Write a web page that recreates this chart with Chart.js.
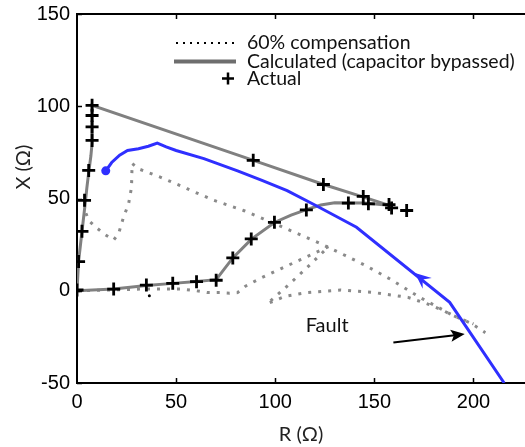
<!DOCTYPE html>
<html>
<head>
<meta charset="utf-8">
<script src="https://cdn.jsdelivr.net/npm/chart.js@4.4.1/dist/chart.umd.min.js"></script>
<style>
  html, body { margin: 0; padding: 0; background: #fff; overflow: hidden; }
  canvas { display: block; }
</style>
</head>
<body>
<canvas id="zChart" width="525" height="447"></canvas>
<script>
/* ===== DATA (R, X) in ohms ===== */
// 60% compensation, first swing
const comp60A = [
  [4.5, 42], [6, 38], [10, 34], [14, 30.5], [18.5, 27.5], [21, 31], [23.5, 40],
  [26, 47], [27.5, 56], [27.8, 69], [31, 66.1], [42, 61.6], [52, 57], [55.5, 55.3],
  [69, 49], [84, 43.5], [94, 39], [108, 32.5], [123, 25.5], [135.5, 19], [145, 14],
  [158, 6.3], [173, -3.6], [190, -13.6], [198.6, -17.5], [206, -22.7],
];
// 60% compensation, second swing
const comp60B = [
  [0, 0], [20, 0.5], [35, 1], [52, 1], [60, 0], [66, -1], [72, -1], [77, -1.3],
  [81, -1], [85, 2.5], [93, 7], [103, 12], [113, 17], [123, 22], [127, 24],
  [116, 12.5], [105, 1.5], [96, -7], [105, -3], [116, -1], [133, 0.4], [150, -1],
  [167, -3.6], [177, -7.2], [185, -10.9], [192, -14.5], [200, -18],
];
// calculated, capacitor bypassed
const calcUpper = [
  [0, 0], [0.8, 16], [2.5, 32], [4, 46], [5, 56], [6, 65], [7, 73], [7.6, 80],
  [7.6, 100.5], [89, 70.7], [124.4, 57.6], [145, 50.6], [157.5, 46.3],
];
const calcLower = [
  [0, 0], [18.5, 1], [35, 2.8], [48.3, 4], [60.3, 5], [70.2, 6], [78.6, 17.8],
  [88, 28], [99.6, 37], [108, 41], [115.7, 44], [123, 46.5], [130, 47.7],
  [145, 47.6], [157.5, 46.3],
];
// measured impedance
const actual = [
  [0, 0.4], [0.8, 15.8], [2.5, 32.2], [3.8, 49], [5.9, 65.2], [7.6, 81.5],
  [7.6, 88.8], [7.6, 95], [7.6, 100.5], [88.9, 70.7], [124.3, 57.6],
  [144.4, 51.1], [157.4, 46.7], [18.5, 0.9], [35, 3.1], [48.3, 4], [60.3, 4.9],
  [70.2, 5.7], [78.6, 17.8], [87.9, 28.1], [99.6, 37.1], [115.7, 43.8],
  [136.9, 47.5], [147, 47.1], [158.7, 44.9], [166.3, 43.5],
];
const strayDot = [[36.5, -2.7]];
// trajectory after the fault (blue)
const trajectory = [
  [14.5, 65], [17.5, 69.5], [21.5, 73.5], [25.5, 76], [31, 77], [36, 78.3],
  [40.5, 80], [45, 78], [50, 76], [64, 71.6], [81, 65], [93, 60], [106, 54.3],
  [120, 46.5], [133, 39], [141, 34.4], [188, -6.3], [215.5, -50],
];
const trajStart = [[14.5, 65]];
// direction arrow on the trajectory: tip, then a point behind it
const trajArrow = [[170.5, 9.6], [188, -6.3]];
// fault annotation
const faultArrow = [[159.6, -28.1], [195.6, -23.5]];
const faultLabel = { text: "Fault", at: [126.2, -19] };

const xTicks = [0, 50, 100, 150, 200];
const yTicks = [-50, 0, 50, 100, 150];

const legendItems = ["60% compensation", "Calculated (capacitor bypassed)", "Actual"];

const pts = (arr) => arr.map(([x, y]) => ({ x, y }));

const TICK_FONT = { family: "'Liberation Sans', Arial, sans-serif", size: 20 };
const TEXT_FONT = "Lato, 'Open Sans', sans-serif";
const BLUE = "#2f2fff";
const GRAY = "#808080";
const DOT_GRAY = "#8a8a8a";

/* ===== DRAWING HELPERS ===== */
function arrowHead(ctx, tx, ty, fx, fy, len, half, notch, color) {
  const ang = Math.atan2(ty - fy, tx - fx);
  const c = Math.cos(ang), s = Math.sin(ang);
  const bx = tx - c * len, by = ty - s * len;
  ctx.fillStyle = color;
  ctx.beginPath();
  ctx.moveTo(tx, ty);
  ctx.lineTo(bx - s * half, by + c * half);
  ctx.lineTo(tx - c * (len - notch), ty - s * (len - notch));
  ctx.lineTo(bx + s * half, by - c * half);
  ctx.closePath();
  ctx.fill();
}

const overlay = {
  id: "overlay",
  afterDatasetsDraw(chart) {
    const { ctx, scales: { x, y } } = chart;
    const px = (p) => [x.getPixelForValue(p[0]), y.getPixelForValue(p[1])];
    ctx.save();

    // arrow on the blue trajectory
    const [t1x, t1y] = px(trajArrow[0]);
    const [t0x, t0y] = px(trajArrow[1]);
    arrowHead(ctx, t1x, t1y, t0x, t0y, 16, 7, 6, BLUE);

    // fault pointer
    const [ax, ay] = px(faultArrow[0]);
    const [bx, by] = px(faultArrow[1]);
    ctx.strokeStyle = "#000";
    ctx.lineWidth = 2;
    const ang = Math.atan2(by - ay, bx - ax);
    ctx.beginPath();
    ctx.moveTo(ax, ay);
    ctx.lineTo(bx - Math.cos(ang) * 8, by - Math.sin(ang) * 8);
    ctx.stroke();
    arrowHead(ctx, bx, by, ax, ay, 14, 6, 3, "#000");

    const [fx, fy] = px(faultLabel.at);
    ctx.fillStyle = "#111";
    ctx.font = "20px " + TEXT_FONT;
    ctx.textAlign = "center";
    ctx.textBaseline = "middle";
    ctx.fillText(faultLabel.text, fx, fy);
    ctx.restore();
  },
  afterDraw(chart) {
    const { ctx, chartArea: a, scales: { x, y } } = chart;
    ctx.save();

    // top frame line
    ctx.strokeStyle = "#000";
    ctx.lineWidth = 2;
    ctx.beginPath();
    ctx.moveTo(a.left, a.top);
    ctx.lineTo(a.right, a.top);
    ctx.stroke();

    // inward tick marks
    ctx.lineWidth = 1.5;
    ctx.beginPath();
    xTicks.forEach((v) => {
      if (v === 0) return;
      const p = Math.round(x.getPixelForValue(v)) + 0.5;
      ctx.moveTo(p, a.bottom);
      ctx.lineTo(p, a.bottom - 5);
      ctx.moveTo(p, a.top);
      ctx.lineTo(p, a.top + 5);
    });
    yTicks.forEach((v) => {
      const p = Math.round(y.getPixelForValue(v)) + 0.5;
      ctx.moveTo(a.left, p);
      ctx.lineTo(a.left + 5, p);
    });
    ctx.stroke();

    // y axis title
    ctx.fillStyle = "#222";
    ctx.font = "20px " + TEXT_FONT;
    ctx.textAlign = "center";
    ctx.textBaseline = "middle";
    ctx.translate(24, a.top + (a.bottom - a.top) * 0.415);
    ctx.rotate(-Math.PI / 2);
    ctx.fillText("X (\u03A9)", 0, 0);
    ctx.setTransform(1, 0, 0, 1, 0, 0);

    // legend
    const lx = a.left + 99;
    const tx = a.left + 170;
    const rows = [a.top + 29, a.top + 47.5, a.top + 64.5];
    ctx.font = "19.5px " + TEXT_FONT;
    ctx.textAlign = "left";
    ctx.fillStyle = "#111";

    ctx.strokeStyle = "#000";
    ctx.lineWidth = 2;
    ctx.setLineDash([2, 5]);
    ctx.beginPath();
    ctx.moveTo(lx, rows[0]);
    ctx.lineTo(lx + 60, rows[0]);
    ctx.stroke();
    ctx.setLineDash([]);
    ctx.fillText(legendItems[0], tx, rows[0]);

    ctx.strokeStyle = "#6e6e6e";
    ctx.lineWidth = 4;
    ctx.beginPath();
    ctx.moveTo(lx - 2, rows[1]);
    ctx.lineTo(lx + 60, rows[1]);
    ctx.stroke();
    ctx.fillText(legendItems[1], tx, rows[1]);

    ctx.strokeStyle = "#000";
    ctx.lineWidth = 2.5;
    const cx = lx + 52, cy = rows[2];
    ctx.beginPath();
    ctx.moveTo(cx - 6, cy);
    ctx.lineTo(cx + 6, cy);
    ctx.moveTo(cx, cy - 6);
    ctx.lineTo(cx, cy + 6);
    ctx.stroke();
    ctx.fillText(legendItems[2], tx, rows[2]);

    ctx.restore();
  },
};

/* ===== CHART INIT ===== */
const ctx = document.getElementById("zChart").getContext("2d");

const chart = new Chart(ctx, {
  type: "scatter",
  data: {
    datasets: [
      {
        label: "Actual",
        data: pts(actual),
        pointStyle: "cross",
        pointRadius: 6.5,
        pointBorderWidth: 2.8,
        borderColor: "#000",
        showLine: false,
        order: 0,
      },
      {
        label: "stray",
        data: pts(strayDot),
        pointRadius: 1.5,
        backgroundColor: "#000",
        borderWidth: 0,
        order: 0,
      },
      {
        label: "Start",
        data: pts(trajStart),
        pointRadius: 4.5,
        backgroundColor: BLUE,
        borderWidth: 0,
        order: 1,
      },
      {
        label: "Trajectory",
        data: pts(trajectory),
        showLine: true,
        borderColor: BLUE,
        borderWidth: 3,
        pointRadius: 0,
        order: 1,
      },
      {
        label: "Calculated upper",
        data: pts(calcUpper),
        showLine: true,
        borderColor: GRAY,
        borderWidth: 3,
        pointRadius: 0,
        order: 2,
      },
      {
        label: "Calculated lower",
        data: pts(calcLower),
        showLine: true,
        borderColor: GRAY,
        borderWidth: 3,
        pointRadius: 0,
        order: 2,
      },
      {
        label: "60% A",
        data: pts(comp60A),
        showLine: true,
        borderColor: DOT_GRAY,
        borderWidth: 3,
        borderDash: [3, 7],
        borderCapStyle: "butt",
        pointRadius: 0,
        order: 3,
      },
      {
        label: "60% B",
        data: pts(comp60B),
        showLine: true,
        borderColor: DOT_GRAY,
        borderWidth: 3,
        borderDash: [3, 7],
        borderCapStyle: "butt",
        pointRadius: 0,
        order: 3,
      },
    ],
  },
  options: {
    responsive: false,
    devicePixelRatio: 1,
    animation: false,
    layout: {
      autoPadding: false,
      padding: { top: 14, right: 0, left: 0, bottom: 0 },
    },
    plugins: {
      legend: { display: false },
      tooltip: { enabled: false },
    },
    scales: {
      x: {
        type: "linear",
        min: 0,
        max: 226,
        grid: { display: false, drawTicks: false },
        border: { display: true, color: "#000", width: 2 },
        ticks: {
          stepSize: 50,
          includeBounds: false,
          padding: 7,
          color: "#000",
          maxRotation: 0,
          font: TICK_FONT,
        },
        title: {
          display: true,
          text: "R (\u03A9)",
          color: "#222",
          font: { family: TEXT_FONT, size: 20 },
          padding: { top: 0, bottom: 0 },
        },
        afterFit: (s) => {
          s.height = 64;
          s.paddingLeft = 0;
          s.paddingRight = 0;
        },
      },
      y: {
        type: "linear",
        min: -50,
        max: 150,
        grid: { display: false, drawTicks: false },
        border: { display: true, color: "#000", width: 2 },
        ticks: {
          stepSize: 50,
          padding: 7,
          color: "#000",
          font: TICK_FONT,
        },
        afterFit: (s) => {
          s.width = 77;
          s.paddingTop = 0;
          s.paddingBottom = 0;
        },
      },
    },
  },
  plugins: [overlay],
});
</script>
</body>
</html>
